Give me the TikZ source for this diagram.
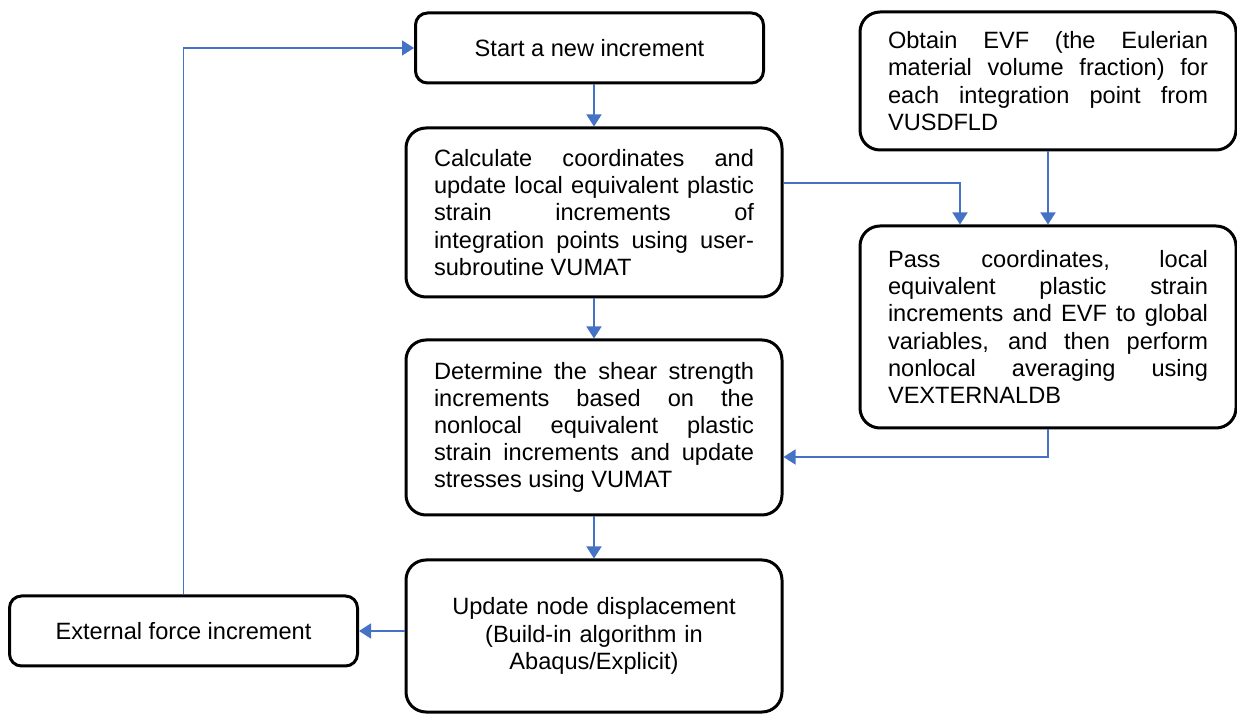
\documentclass[tikz,border=0pt]{standalone}
\usepackage{fontspec}
\setmainfont{Liberation Sans}
\usepackage{tikz}
\usetikzlibrary{arrows.meta,positioning}
\tikzset{font=\fontsize{11.8}{13.6}\selectfont}
\tolerance=10000
\hbadness=10000
\hyphenpenalty=10000
\definecolor{flowblue}{RGB}{68,114,196}
\tikzstyle{stepbox}=[draw,line width=1.5pt,rectangle,inner sep=0pt,align=center]
\tikzstyle{smallbox}=[stepbox,rounded corners=6pt,minimum width=174pt,minimum height=35pt]
\tikzstyle{textbox}=[stepbox,rounded corners=10pt,text width=160pt,minimum width=188pt,align=justify]
\tikzstyle{flow}=[draw=flowblue,line width=0.75pt,-{Triangle[length=6pt,width=7.5pt]}]

\begin{document}
\begin{tikzpicture}[x=0.5pt,y=-0.5pt]
\useasboundingbox (0,0) rectangle (1237,715);
\node[smallbox] (start) at (589.5,48) {Start a new increment};
\node[textbox,minimum height=84.5pt] (calc) at (594,212.5) {Calculate coordinates and\linebreak update local equivalent plastic\linebreak strain increments of\linebreak integration points using user-\linebreak subroutine VUMAT};
\node[textbox,minimum height=87.5pt] (determine) at (594,427.5) {Determine the shear strength\linebreak increments based on the\linebreak nonlocal equivalent plastic\linebreak strain increments and update\linebreak stresses using VUMAT};
\node[textbox,align=center,minimum height=76pt] (update) at (594,636) {Update node displacement\\(Build-in algorithm in\\Abaqus/Explicit)};
\node[smallbox] (external) at (183.5,631) {External force increment};
\node[textbox,minimum height=69pt] (obtain) at (1048,81) {Obtain EVF (the Eulerian\linebreak material volume fraction) for\linebreak each integration point from\linebreak VUSDFLD};
\node[textbox,minimum height=101pt] (pass) at (1048,327) {Pass coordinates, local\linebreak equivalent plastic strain\linebreak increments and EVF to global\linebreak variables, and then perform\linebreak nonlocal averaging using\linebreak VEXTERNALDB};
% connectors
\draw[flow] (start.south -| calc.north) -- (calc.north);
\draw[flow] (calc.south) -- (determine.north);
\draw[flow] (determine.south) -- (update.north);
\draw[flow] (update.west |- external.east) -- (external.east);
\draw[flow] (external.north) |- (start.west);
\draw[flow] ([yshift=14.75pt]calc.east) -| ([xshift=-44pt]pass.north);
\draw[flow] (obtain.south) -- (pass.north);
\draw[flow] (pass.south) |- ([yshift=-14.75pt]determine.east);
\end{tikzpicture}
\end{document}
